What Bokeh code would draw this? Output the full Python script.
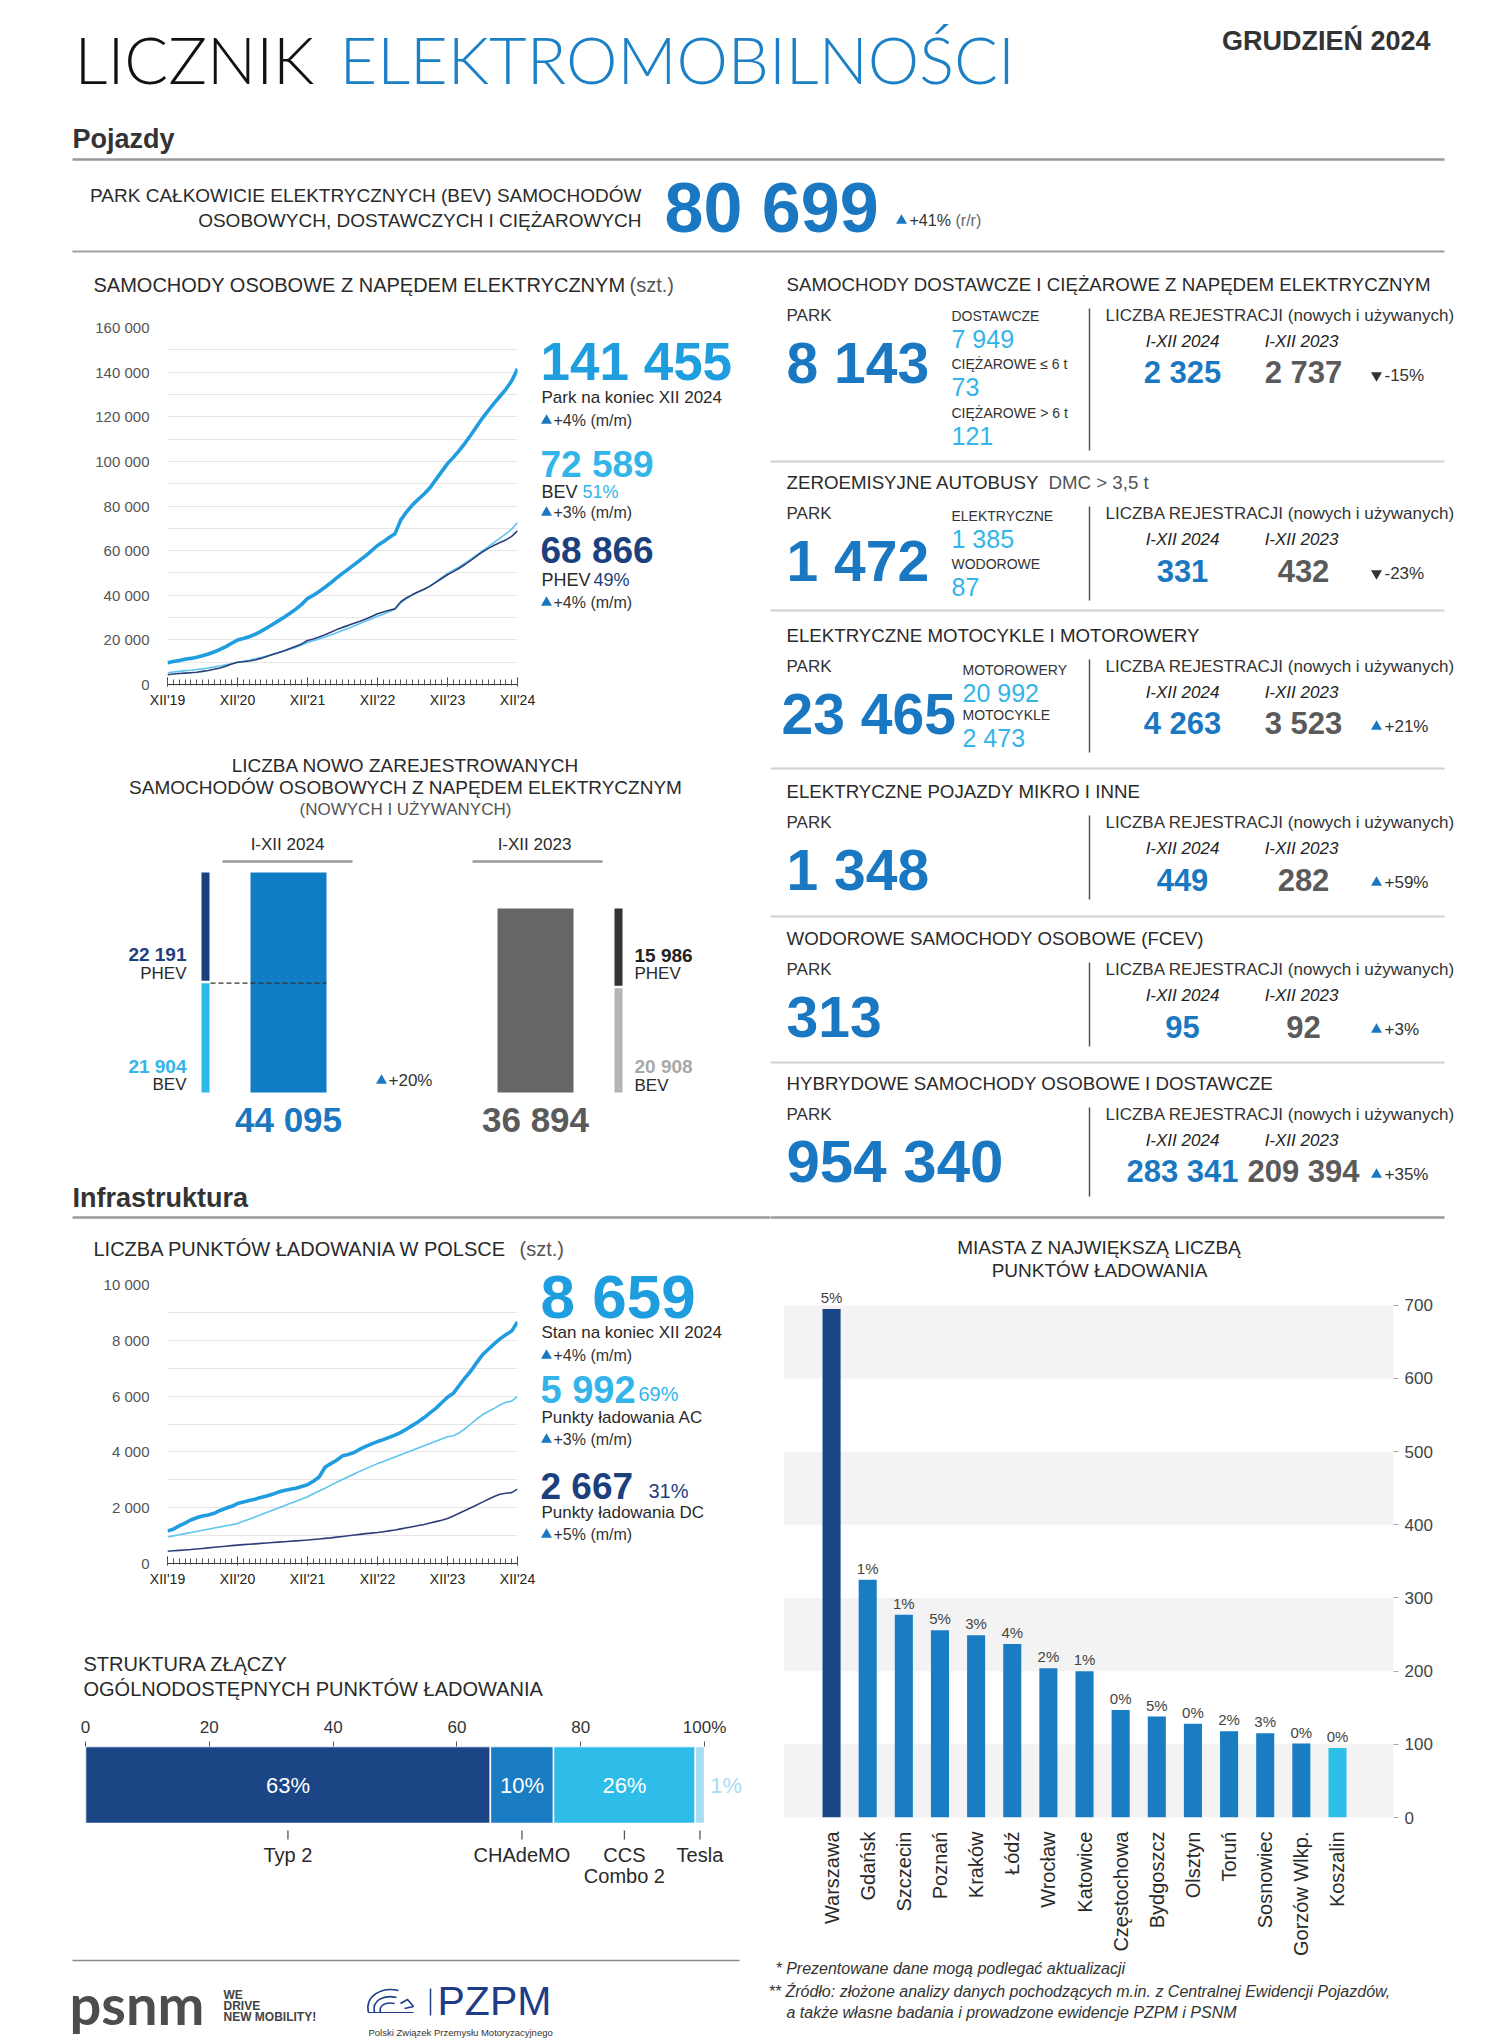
import math
from bokeh.plotting import figure
from bokeh.models import Range1d, SingleIntervalTicker, FixedTicker, BoxAnnotation, Spacer
from bokeh.layouts import column, row
from bokeh.core.properties import value
from bokeh.embed import file_html
from bokeh.resources import INLINE

# ---------------------------------------------------------------- data
MONTH_TICK_LABELS = ["XII'19", "XII'20", "XII'21", "XII'22", "XII'23", "XII'24"]

CAR_TOTAL = [9700,
             10300, 10800, 11300, 11700, 12200, 12900, 13700, 14600, 15700, 17000, 18500, 19900,
             20600, 21400, 22500, 23800, 25300, 26900, 28500, 30100, 31900, 33800, 35900, 38500,
             40000, 41700, 43600, 45600, 47800, 49800, 51700, 53700, 55700, 57800, 60000, 62300,
             64000, 65900, 67600, 73800, 77400, 80500, 83000, 85400, 88200, 91800, 95400, 99000,
             101800, 104800, 108200, 111800, 115600, 119400, 122800, 126100, 129200, 132300, 136000, 141455]
CAR_BEV = [5300,
           5600, 5900, 6200, 6400, 6700, 7000, 7400, 7800, 8300, 8800, 9300, 9900,
           10400, 10900, 11500, 12100, 12800, 13500, 14300, 15000, 15800, 16700, 17700, 18800,
           19600, 20400, 21300, 22200, 23200, 24200, 25200, 26200, 27300, 28400, 29500, 30600,
           31500, 32600, 33700, 36700, 38500, 40200, 41400, 42700, 44100, 46000, 47900, 49800,
           51200, 52700, 54400, 56200, 58100, 60000, 61800, 63700, 65600, 67500, 69600, 72589]
CAR_PHEV = [4400,
            4700, 4900, 5100, 5300, 5500, 5900, 6300, 6800, 7400, 8200, 9200, 10000,
            10200, 10500, 11000, 11700, 12500, 13400, 14200, 15100, 16100, 17100, 18200, 19700,
            20400, 21300, 22300, 23400, 24600, 25600, 26500, 27500, 28400, 29400, 30500, 31700,
            32500, 33300, 33900, 37100, 38900, 40300, 41600, 42700, 44100, 45800, 47500, 49200,
            50600, 52100, 53800, 55600, 57500, 59400, 61000, 62400, 63600, 64800, 66400, 68866]

CHG_TOTAL = [1170,
             1230, 1350, 1450, 1560, 1640, 1700, 1740, 1800, 1900, 1980, 2050, 2150,
             2200, 2260, 2300, 2370, 2420, 2480, 2560, 2620, 2660, 2700, 2760, 2820,
             2950, 3100, 3450, 3580, 3700, 3860, 3910, 3980, 4100, 4200, 4290, 4370,
             4440, 4520, 4600, 4700, 4820, 4950, 5080, 5230, 5400, 5560, 5760, 5960,
             6100, 6380, 6650, 6900, 7200, 7480, 7680, 7870, 8050, 8200, 8330, 8659]
CHG_AC = [950,
          990, 1030, 1070, 1110, 1150, 1190, 1230, 1270, 1310, 1350, 1390, 1430,
          1510, 1590, 1670, 1750, 1830, 1910, 1990, 2070, 2150, 2230, 2310, 2390,
          2500, 2600, 2700, 2810, 2910, 3010, 3110, 3210, 3310, 3400, 3490, 3580,
          3660, 3740, 3820, 3900, 3980, 4060, 4140, 4220, 4300, 4380, 4460, 4540,
          4580, 4680, 4830, 5000, 5180, 5330, 5450, 5560, 5680, 5780, 5820, 5992]
CHG_DC = [440,
          455, 470, 485, 500, 520, 540, 560, 580, 600, 620, 640, 660,
          675, 690, 705, 720, 735, 750, 765, 780, 795, 810, 825, 840,
          860, 880, 900, 920, 945, 970, 995, 1020, 1045, 1070, 1090, 1110,
          1140, 1170, 1200, 1240, 1280, 1320, 1360, 1400, 1450, 1500, 1550, 1610,
          1700, 1800, 1900, 2000, 2100, 2200, 2300, 2400, 2480, 2520, 2540, 2667]

BEV_PARK = 80699
BEV_PARK_CHANGE = "+41%"
CAR_LATEST = [141455, 72589, 68866]
CAR_SHARE = ["51%", "49%"]
CAR_MM = ["+4%", "+3%", "+4%"]
CHG_LATEST = [8659, 5992, 2667]
CHG_SHARE = ["69%", "31%"]
CHG_MM = ["+4%", "+3%", "+5%"]

REG_YEARS = ["I-XII 2024", "I-XII 2023"]
REG_BEV = [21904, 20908]
REG_PHEV = [22191, 15986]
REG_TOTAL = [44095, 36894]
REG_CHANGE = "+20%"

SEG_TITLES = ["SAMOCHODY DOSTAWCZE I CIĘŻAROWE Z NAPĘDEM ELEKTRYCZNYM",
              "ZEROEMISYJNE AUTOBUSY",
              "ELEKTRYCZNE MOTOCYKLE I MOTOROWERY",
              "ELEKTRYCZNE POJAZDY MIKRO I INNE",
              "WODOROWE SAMOCHODY OSOBOWE (FCEV)",
              "HYBRYDOWE SAMOCHODY OSOBOWE I DOSTAWCZE"]
SEG_PARK = [8143, 1472, 23465, 1348, 313, 954340]
SEG_REG_2024 = [2325, 331, 4263, 449, 95, 283341]
SEG_REG_2023 = [2737, 432, 3523, 282, 92, 209394]
SEG_CHANGE = ["-15%", "-23%", "+21%", "+59%", "+3%", "+35%"]
SEG_SUB_NAMES = [["DOSTAWCZE", "CIĘŻAROWE ≤ 6 t", "CIĘŻAROWE > 6 t"],
                 ["ELEKTRYCZNE", "WODOROWE"],
                 ["MOTOROWERY", "MOTOCYKLE"]]
SEG_SUB_VALUES = [[7949, 73, 121], [1385, 87], [20992, 2473]]

CITIES = ["Warszawa", "Gdańsk", "Szczecin", "Poznań", "Kraków", "Łódź", "Wrocław", "Katowice",
          "Częstochowa", "Bydgoszcz", "Olsztyn", "Toruń", "Sosnowiec", "Gorzów Wlkp.", "Koszalin"]
CITY_POINTS = [695, 325, 277, 256, 249, 237, 204, 200, 147, 138, 128, 118, 115, 101, 95]
CITY_PCT = ["5%", "1%", "1%", "5%", "3%", "4%", "2%", "1%", "0%", "5%", "0%", "2%", "3%", "0%", "0%"]

CONN_NAMES = ["Typ 2", "CHAdeMO", "CCS\nCombo 2", "Tesla"]
CONN_SHARE = [65.4, 10.2, 22.9, 1.5]
CONN_LABELS = ["63%", "10%", "26%", "1%"]

# ---------------------------------------------------------------- style
FONT = "Liberation Sans"
TFONT = "Lato Light, Lato"
BLUE = "#1a78c2"
TITLE_BLUE = "#1b80c6"
BRIGHT = "#1e9ddf"
CYAN = "#33b5e9"
NAVY = "#1c3f7e"
DARK = "#2a2a2a"
GREY = "#5a5a5a"
PZPM_BLUE = "#1f3c88"


def fmt(v):
    return f"{v:,}".replace(",", " ")


def panel(x0, y0, w, h):
    p = figure(width=w, height=h, x_range=Range1d(x0, x0 + w), y_range=Range1d(y0 + h, y0),
               output_backend="svg", toolbar_location=None,
               x_axis_location=None, y_axis_location=None,
               min_border=0, outline_line_color=None)
    p.grid.grid_line_color = None
    return p


def T(p, x, y, s, size, color=DARK, bold=False, italic=False, align="left",
      font=FONT, baseline="middle"):
    style = "bold italic" if (bold and italic) else "bold" if bold else "italic" if italic else "normal"
    p.text(x=[x], y=[y], text=[s], text_font=value(font), text_font_size=f"{size}px",
           text_color=color, text_align=align, text_baseline=baseline, text_font_style=style)


def HL(p, x0, x1, y, color="#999999", width=2.0):
    p.line([x0, x1], [y, y], line_color=color, line_width=width)


def VL(p, x, y0, y1, color="#555555", width=1.5):
    p.line([x, x], [y0, y1], line_color=color, line_width=width)


def tri(p, x, y, up=True, size=11):
    p.scatter([x], [y], marker="triangle" if up else "inverted_triangle", size=size,
              fill_color=BLUE if up else "#333333", line_color=None)


def solo(fig):
    # wrapping keeps Bokeh from aligning this figure's frame with its neighbours
    return column(fig, spacing=0)


# ---------------------------------------------------------------- header
H = panel(8, 8, 1484, 247)
T(H, 74, 58, "LICZNIK", 65, "#111111", font=TFONT)
T(H, 339, 58, "ELEKTROMOBILNOŚCI", 65, TITLE_BLUE, font=TFONT)
T(H, 1430, 40, "GRUDZIEŃ 2024", 27, "#333333", bold=True, align="right")
T(H, 72, 138, "Pojazdy", 27, "#333333", bold=True)
HL(H, 72, 1444, 159, "#9a9a9a", 2.5)
T(H, 641, 195, "PARK CAŁKOWICIE ELEKTRYCZNYCH (BEV) SAMOCHODÓW", 19, DARK, align="right")
T(H, 641, 220, "OSOBOWYCH, DOSTAWCZYCH I CIĘŻAROWYCH", 19, DARK, align="right")
T(H, 664, 207, fmt(BEV_PARK), 70, BLUE, bold=True)
tri(H, 901, 220)
T(H, 909, 220, BEV_PARK_CHANGE, 16, "#333333")
T(H, 955, 220, "(r/r)", 16, "#666666")
HL(H, 72, 1444, 251, "#a0a0a0", 2)


# ---------------------------------------------------------------- line chart helper
def line_chart(w, h, top, bottom, ymax, step, series, widths, colors):
    n = len(series[0]) - 1
    p = figure(width=w, height=h, x_range=Range1d(0, n), y_range=Range1d(0, ymax),
               output_backend="svg", toolbar_location=None,
               min_border_left=159, min_border_right=23, min_border_top=top,
               min_border_bottom=bottom, outline_line_color=None)
    months = list(range(n + 1))
    for s, lw, c in zip(series, widths, colors):
        p.line(months, s, line_width=lw, line_color=c, line_join="round")
    p.xgrid.visible = False
    p.ygrid.grid_line_color = "#e6e6e6"
    p.ygrid.minor_grid_line_color = "#e6e6e6"
    p.yaxis.ticker = SingleIntervalTicker(interval=step, num_minor_ticks=2)
    p.yaxis.major_label_overrides = {v: fmt(v) for v in range(0, ymax + 1, step)}
    p.yaxis.axis_line_color = None
    p.yaxis.major_tick_line_color = None
    p.yaxis.minor_tick_line_color = None
    p.yaxis.major_label_standoff = 12
    p.yaxis.major_label_text_font = FONT
    p.yaxis.major_label_text_font_size = "15px"
    p.yaxis.major_label_text_color = "#555555"
    p.xaxis.ticker = SingleIntervalTicker(interval=12, num_minor_ticks=12)
    p.xaxis.major_label_overrides = {12 * i: lab for i, lab in enumerate(MONTH_TICK_LABELS)}
    p.xaxis.axis_line_color = "#333333"
    p.xaxis.major_tick_line_color = "#333333"
    p.xaxis.minor_tick_line_color = "#555555"
    p.xaxis.major_tick_in = 7
    p.xaxis.major_tick_out = 2
    p.xaxis.minor_tick_in = 5
    p.xaxis.minor_tick_out = 1
    p.xaxis.major_label_standoff = 5
    p.xaxis.major_label_text_font = FONT
    p.xaxis.major_label_text_font_size = "14px"
    p.xaxis.major_label_text_color = "#222222"
    return p


# ---------------------------------------------------------------- cars
CT = panel(8, 255, 762, 50)
T(CT, 93, 284, "SAMOCHODY OSOBOWE Z NAPĘDEM ELEKTRYCZNYM", 20, DARK)
T(CT, 629, 284, "(szt.)", 20, "#555555")

CARS = line_chart(532, 415, 22, 36, 160000, 20000,
                  [CAR_BEV, CAR_PHEV, CAR_TOTAL], [1.6, 1.6, 3.6],
                  ["#5ec5ef", "#2d3f78", "#1f9ddf"])

CN = panel(540, 305, 230, 415)
T(CN, 540, 361, fmt(CAR_LATEST[0]), 53, BRIGHT, bold=True)
T(CN, 541, 397, "Park na koniec XII 2024", 17, DARK)
tri(CN, 546, 420)
T(CN, 553, 420, CAR_MM[0] + " (m/m)", 16, "#333333")
T(CN, 540, 464, fmt(CAR_LATEST[1]), 37, CYAN, bold=True)
T(CN, 541, 491, "BEV", 18, DARK)
T(CN, 582, 491, CAR_SHARE[0], 18, CYAN)
tri(CN, 546, 512)
T(CN, 553, 512, CAR_MM[1] + " (m/m)", 16, "#333333")
T(CN, 540, 550, fmt(CAR_LATEST[2]), 37, NAVY, bold=True)
T(CN, 541, 579, "PHEV", 18, DARK)
T(CN, 593, 579, CAR_SHARE[1], 18, NAVY)
tri(CN, 546, 602)
T(CN, 553, 602, CAR_MM[2] + " (m/m)", 16, "#333333")

# ---------------------------------------------------------------- new registrations
RT = panel(8, 720, 762, 146)
T(RT, 405, 765, "LICZBA NOWO ZAREJESTROWANYCH", 19, DARK, align="center")
T(RT, 405, 787, "SAMOCHODÓW OSOBOWYCH Z NAPĘDEM ELEKTRYCZNYM", 19, DARK, align="center")
T(RT, 405, 809, "(NOWYCH I UŻYWANYCH)", 17, "#555555", align="center")
T(RT, 287, 844, REG_YEARS[0], 17, DARK, align="center")
HL(RT, 222, 352, 861, "#999999", 2.5)
T(RT, 534, 844, REG_YEARS[1], 17, DARK, align="center")
HL(RT, 472, 602, 861, "#999999", 2.5)

BASE_REF, TOP_REF = 1092, 872
U = REG_TOTAL[0] / (BASE_REF - TOP_REF)


def yr(r):
    return (BASE_REF - r) * U


RB = figure(width=762, height=317, x_range=Range1d(8, 770),
            y_range=Range1d(yr(1183), yr(866)), output_backend="svg", toolbar_location=None,
            x_axis_location=None, y_axis_location=None, min_border=0, outline_line_color=None)
RB.grid.grid_line_color = None
RB.vbar(x=[288, 535], width=76, top=REG_TOTAL, bottom=0, fill_color=["#0f7dc4", "#666666"],
        line_color=None)
gap = 2.5 * U
RB.vbar(x=[205, 618], width=8, top=REG_BEV, bottom=0, fill_color=["#2bb9ea", "#b5b5b5"],
        line_color=None)
RB.vbar(x=[205, 618], width=8, bottom=[b + gap for b in REG_BEV],
        top=[b + ph for b, ph in zip(REG_BEV, REG_PHEV)], fill_color=[NAVY, "#333333"],
        line_color=None)
RB.segment(x0=[210], y0=[REG_BEV[0]], x1=[326], y1=[REG_BEV[0]], line_color="#333333",
           line_width=1.3, line_dash="5 3")
T(RB, 186, yr(954), fmt(REG_PHEV[0]), 19, NAVY, bold=True, align="right")
T(RB, 186, yr(973), "PHEV", 17, DARK, align="right")
T(RB, 186, yr(1066), fmt(REG_BEV[0]), 19, CYAN, bold=True, align="right")
T(RB, 186, yr(1084), "BEV", 17, DARK, align="right")
T(RB, 288, yr(1119), fmt(REG_TOTAL[0]), 35, BLUE, bold=True, align="center")
tri(RB, 381, yr(1080))
T(RB, 388, yr(1080), REG_CHANGE, 17, "#333333")
T(RB, 634, yr(955), fmt(REG_PHEV[1]), 19, "#222222", bold=True)
T(RB, 634, yr(973), "PHEV", 17, DARK)
T(RB, 634, yr(1066), fmt(REG_BEV[1]), 19, "#a8a8a8", bold=True)
T(RB, 634, yr(1085), "BEV", 17, DARK)
T(RB, 535, yr(1119), fmt(REG_TOTAL[1]), 35, GREY, bold=True, align="center")

# "Infrastruktura" heading, left part
INF_L = panel(8, 1183, 762, 42)
T(INF_L, 72, 1197, "Infrastruktura", 27, "#333333", bold=True)
HL(INF_L, 72, 771, 1217, "#9a9a9a", 2.5)

# ---------------------------------------------------------------- right blocks
BLOCK_Y = [284, 482, 635, 791, 938, 1083]
SEP_END = [450, 600, 752, 899, 1046, 1196]
RULE_Y = [461, 610, 768, 916, 1062]
BIG_X = [786, 786, 781, 786, 786, 786]
BIG_SIZE = [57, 57, 57, 57, 57, 60]
SUB_X = [951, 951, 962]
SUB_Y0 = [315, 515, 669]
SUB_STEP = [48.5, 48, 45]

R = panel(770, 255, 722, 950)
for i in range(6):
    ty = BLOCK_Y[i]
    T(R, 786, ty, SEG_TITLES[i], 18.7, DARK)
    if i == 1:
        T(R, 1048, ty, "DMC > 3,5 t", 18.7, "#555555")
    T(R, 786, ty + 31, "PARK", 17, "#333333")
    T(R, BIG_X[i], ty + 78, fmt(SEG_PARK[i]), BIG_SIZE[i], BLUE, bold=True)
    if i < len(SEG_SUB_NAMES):
        for k, (nm, vv) in enumerate(zip(SEG_SUB_NAMES[i], SEG_SUB_VALUES[i])):
            yy = SUB_Y0[i] + k * SUB_STEP[i]
            T(R, SUB_X[i], yy, nm, 14, "#333333")
            T(R, SUB_X[i], yy + 23, fmt(vv), 25, CYAN)
    VL(R, 1089, ty + 24, SEP_END[i])
    T(R, 1105, ty + 31, "LICZBA REJESTRACJI (nowych i używanych)", 17, "#333333")
    T(R, 1182, ty + 57, REG_YEARS[0], 17, "#222222", italic=True, align="center")
    T(R, 1301, ty + 57, REG_YEARS[1], 17, "#222222", italic=True, align="center")
    T(R, 1182, ty + 88, fmt(SEG_REG_2024[i]), 31, BLUE, bold=True, align="center")
    T(R, 1303, ty + 88, fmt(SEG_REG_2023[i]), 31, GREY, bold=True, align="center")
    tri(R, 1376, ty + 91, up=not SEG_CHANGE[i].startswith("-"))
    T(R, 1384, ty + 91, SEG_CHANGE[i], 17, "#333333")
    if i < 5:
        HL(R, 770, 1444, RULE_Y[i], "#d0d0d0", 2)

# "Infrastruktura" rule, right part
INF_R = panel(770, 1205, 722, 20)
HL(INF_R, 769, 1444, 1217, "#9a9a9a", 2.5)

# ---------------------------------------------------------------- charging points
GT = panel(8, 1225, 762, 35)
T(GT, 93, 1248, "LICZBA PUNKTÓW ŁADOWANIA W POLSCE", 20, DARK)
T(GT, 519, 1248, "(szt.)", 20, "#555555")

CHG = line_chart(532, 335, 24, 32, 10000, 2000,
                 [CHG_AC, CHG_DC, CHG_TOTAL], [1.6, 1.6, 3.6],
                 ["#5ec5ef", "#2d3f78", "#1f9ddf"])

GN = panel(540, 1260, 230, 335)
T(GN, 540, 1296, fmt(CHG_LATEST[0]), 62, BRIGHT, bold=True)
T(GN, 541, 1332, "Stan na koniec XII 2024", 17, DARK)
tri(GN, 546, 1355)
T(GN, 553, 1355, CHG_MM[0] + " (m/m)", 16, "#333333")
T(GN, 540, 1389, fmt(CHG_LATEST[1]), 38, CYAN, bold=True)
T(GN, 638, 1393, CHG_SHARE[0], 20, CYAN)
T(GN, 541, 1417, "Punkty ładowania AC", 17, DARK)
tri(GN, 546, 1439)
T(GN, 553, 1439, CHG_MM[1] + " (m/m)", 16, "#333333")
T(GN, 540, 1486, fmt(CHG_LATEST[2]), 37, NAVY, bold=True)
T(GN, 648, 1490, CHG_SHARE[1], 20, NAVY)
T(GN, 541, 1512, "Punkty ładowania DC", 17, DARK)
tri(GN, 546, 1534)
T(GN, 553, 1534, CHG_MM[2] + " (m/m)", 16, "#333333")

# ---------------------------------------------------------------- connectors
KT = panel(8, 1595, 762, 105)
T(KT, 83, 1663, "STRUKTURA ZŁĄCZY", 20, DARK)
T(KT, 83, 1688, "OGÓLNODOSTĘPNYCH PUNKTÓW ŁADOWANIA", 20, DARK)

K = figure(width=762, height=258, x_range=Range1d(0, 110), y_range=Range1d(154, 0),
           x_axis_location="above", y_axis_location=None, output_backend="svg",
           toolbar_location=None, min_border_left=77, min_border_right=4,
           min_border_top=46, min_border_bottom=58, outline_line_color=None)
K.grid.grid_line_color = None
lefts, rights = [], []
acc = 0.0
for s in CONN_SHARE:
    lefts.append(acc)
    acc += s
    rights.append(acc)
centers = [(a + b) / 2 for a, b in zip(lefts, rights)]
K.hbar(y=38.5, height=77, left=lefts, right=rights,
       fill_color=["#1b4585", "#1a7dc4", "#2ebde9", "#a8dcf3"], line_color="white", line_width=1.5)
K.text(x=centers[:3], y=[38.5] * 3, text=CONN_LABELS[:3], text_font=value(FONT),
       text_font_size="22px", text_color="white", text_align="center", text_baseline="middle")
K.text(x=[rights[-1] + 3.5], y=[38.5], text=[CONN_LABELS[3]], text_font=value(FONT),
       text_font_size="22px", text_color="#a8dcf3", text_align="center", text_baseline="middle")
K.segment(x0=centers, y0=[84] * 4, x1=centers, y1=[93] * 4, line_color="#555555", line_width=1.3)
for c, nm in zip(centers, CONN_NAMES):
    for j, part in enumerate(nm.split("\n")):
        K.text(x=[c], y=[108 + 21 * j], text=[part], text_font=value(FONT), text_font_size="20px",
               text_color="#2a2a2a", text_align="center", text_baseline="middle")
K.xaxis.ticker = FixedTicker(ticks=[0, 20, 40, 60, 80, 100])
K.xaxis.major_label_overrides = {100: "100%"}
K.xaxis.axis_line_color = None
K.xaxis.major_tick_in = 0
K.xaxis.major_tick_out = 5
K.xaxis.major_tick_line_color = "#555555"
K.xaxis.minor_tick_line_color = None
K.xaxis.major_label_standoff = 5
K.xaxis.major_label_text_font = FONT
K.xaxis.major_label_text_font_size = "17px"
K.xaxis.major_label_text_color = "#333333"

# ---------------------------------------------------------------- cities
MT = panel(770, 1225, 722, 56)
T(MT, 1099, 1247, "MIASTA Z NAJWIĘKSZĄ LICZBĄ", 19, DARK, align="center")
T(MT, 1099, 1270, "PUNKTÓW ŁADOWANIA", 19, DARK, align="center")

FT, FB, Y700 = 1281, 1822, 1305
ytop = 700 * (FB - FT) / (FB - Y700)
M = figure(width=722, height=677, x_range=Range1d(-1.33, 15.55), y_range=Range1d(0, ytop),
           y_axis_location="right", output_backend="svg", toolbar_location=None,
           min_border_left=13, min_border_right=99, min_border_top=0, min_border_bottom=136,
           outline_line_color=None)
M.grid.grid_line_color = None
for k in range(0, 700, 200):
    M.add_layout(BoxAnnotation(bottom=k, top=k + 100, fill_color="#f3f3f3", fill_alpha=1.0,
                               line_color=None, level="underlay"))
idx = list(range(len(CITIES)))
bar_colors = ["#1b4585"] + ["#1a7dc4"] * (len(CITIES) - 2) + ["#2ebfe8"]
M.vbar(x=idx, top=CITY_POINTS, width=0.5, fill_color=bar_colors, line_color=None)
M.text(x=idx, y=[v + 4 for v in CITY_POINTS], text=CITY_PCT, text_font=value(FONT),
       text_font_size="15px", text_color="#444444", text_align="center", text_baseline="bottom")
M.xaxis.ticker = FixedTicker(ticks=idx)
M.xaxis.major_label_overrides = {i: c for i, c in enumerate(CITIES)}
M.xaxis.major_label_orientation = math.pi / 2
M.xaxis.axis_line_color = None
M.xaxis.major_tick_line_color = None
M.xaxis.minor_tick_line_color = None
M.xaxis.major_label_standoff = 8
M.xaxis.major_label_text_font = FONT
M.xaxis.major_label_text_font_size = "20px"
M.xaxis.major_label_text_color = "#2a2a2a"
M.yaxis.ticker = FixedTicker(ticks=list(range(0, 701, 100)))
M.yaxis.axis_line_color = None
M.yaxis.major_tick_in = 0
M.yaxis.major_tick_out = 5
M.yaxis.major_tick_line_color = "#aaaaaa"
M.yaxis.minor_tick_line_color = None
M.yaxis.major_label_standoff = 6
M.yaxis.major_label_text_font = FONT
M.yaxis.major_label_text_font_size = "17px"
M.yaxis.major_label_text_color = "#444444"

# ---------------------------------------------------------------- footer
F = panel(8, 1958, 1484, 82)
HL(F, 72, 739, 1960, "#888888", 1.5)
T(F, 69, 2003, "psnm", 56, "#4d4d4d", bold=True, font="Lato")
T(F, 223, 1994, "WE", 12, "#444444", bold=True)
T(F, 223, 2005, "DRIVE", 12, "#444444", bold=True)
T(F, 223, 2016, "NEW MOBILITY!", 12, "#444444", bold=True)
# PZPM emblem (stylised car outline)
F.bezier(x0=[368, 374, 380], y0=[2012, 2012, 2012], x1=[398, 396, 394], y1=[1990, 1997, 2003],
         cx0=[364, 371, 378], cy0=[1995, 2000, 2005], cx1=[382, 383, 385], cy1=[1986, 1994, 2001],
         line_color=PZPM_BLUE, line_width=1.6)
F.line([400, 407, 413, 404], [2003, 1999, 2006, 2008], line_color=PZPM_BLUE, line_width=1.6)
F.line([368, 413], [2012, 2012], line_color=PZPM_BLUE, line_width=1.2)
VL(F, 430, 1988, 2015, PZPM_BLUE, 1.5)
T(F, 437, 2000, "PZPM", 41, PZPM_BLUE)
T(F, 368, 2032, "Polski Związek Przemysłu Motoryzacyjnego", 9.5, "#333333")
T(F, 775, 1968, "* Prezentowane dane mogą podlegać aktualizacji", 16, "#333333", italic=True)
T(F, 768, 1991, "** Źródło: złożone analizy danych pochodzących m.in. z Centralnej Ewidencji Pojazdów,",
  16, "#333333", italic=True)
T(F, 786, 2012, "a także własne badania i prowadzone ewidencje PZPM i PSNM", 16, "#333333", italic=True)

# ---------------------------------------------------------------- layout
left_top = column(CT, row(solo(CARS), solo(CN), spacing=0), RT, RB, INF_L, spacing=0)
right_top = column(R, INF_R, spacing=0)
left_bottom = column(GT, row(solo(CHG), solo(GN), spacing=0), KT, solo(K), spacing=0)
right_bottom = column(MT, solo(M), spacing=0)
inner = column(H, row(left_top, right_top, spacing=0), row(left_bottom, right_bottom, spacing=0),
               F, spacing=0)
page = column(Spacer(height=8, width=1492),
              row(Spacer(width=8, height=2032), inner, spacing=0), spacing=0)

with open("out.html", "w") as f:
    f.write(file_html(page, INLINE))
